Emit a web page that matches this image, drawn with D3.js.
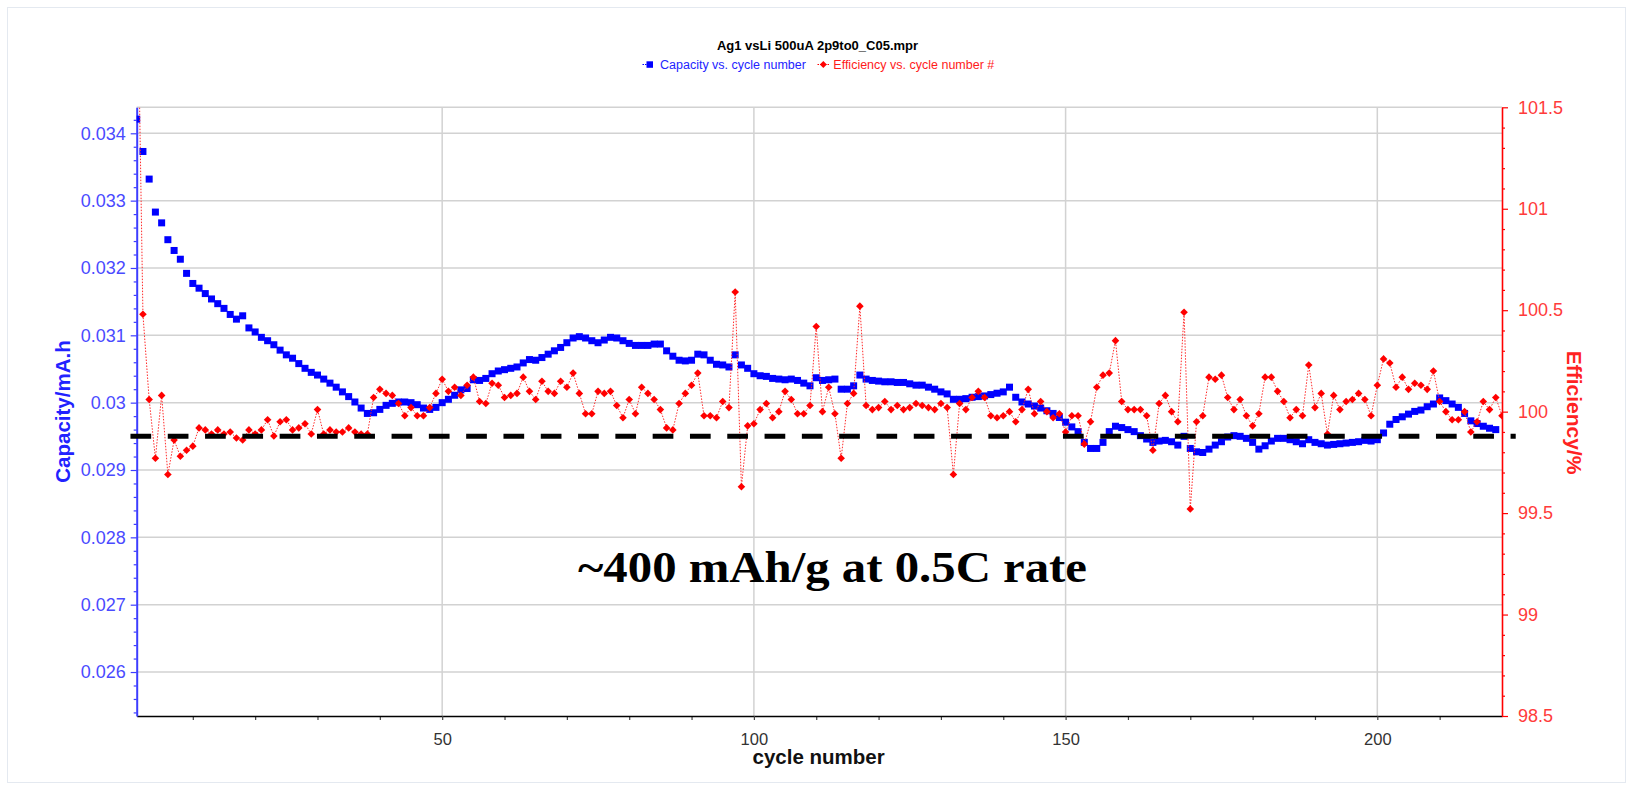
<!DOCTYPE html>
<html>
<head>
<meta charset="utf-8">
<script src="https://cdn.jsdelivr.net/npm/d3@7"></script>
<style>
  html, body { margin: 0; padding: 0; background: #ffffff; }
  svg { display: block; }
</style>
</head>
<body>
<svg id="chart" width="1633" height="790"></svg>
<script>
// ---------------- DATA ----------------
const chartTitle = "Ag1 vsLi 500uA 2p9to0_C05.mpr";
const seriesNames = ["Capacity vs. cycle number", "Efficiency vs. cycle number #"];
const xTitle = "cycle number";
const yLeftTitle = "Capacity/mA.h";
const yRightTitle = "Efficiency/%";
const annotationText = "~400 mAh/g at 0.5C rate";

// cycle numbers (x categories)
const cycles = d3.range(1, 221);

// capacity (mA.h), cycles 1..219
const capacity = [
  0.03421, 0.03373, 0.03332, 0.03283, 0.03267, 0.03242, 0.03226, 0.03213, 0.03192, 0.03177,
  0.03170, 0.03162, 0.03154, 0.03147, 0.03140, 0.03131, 0.03124, 0.03129, 0.03111, 0.03105,
  0.03097, 0.03092, 0.03086, 0.03078, 0.03071, 0.03066, 0.03058, 0.03051, 0.03045, 0.03041,
  0.03035, 0.03029, 0.03023, 0.03016, 0.03009, 0.03001, 0.02992, 0.02984, 0.02985, 0.02990,
  0.02996, 0.02999, 0.03001, 0.03001, 0.03000, 0.02997, 0.02992, 0.02990, 0.02993, 0.03000,
  0.03005, 0.03011, 0.03019, 0.03021, 0.03034, 0.03033, 0.03036, 0.03043, 0.03047, 0.03049,
  0.03051, 0.03053, 0.03059, 0.03064, 0.03063, 0.03067, 0.03072, 0.03077, 0.03082, 0.03089,
  0.03096, 0.03098, 0.03096, 0.03092, 0.03089, 0.03093, 0.03097, 0.03096, 0.03092, 0.03088,
  0.03085, 0.03085, 0.03085, 0.03087, 0.03087, 0.03077, 0.03069, 0.03063, 0.03062, 0.03063,
  0.03072, 0.03071, 0.03063, 0.03057, 0.03056, 0.03053, 0.03071, 0.03056, 0.03051, 0.03043,
  0.03040, 0.03039, 0.03036, 0.03035, 0.03034, 0.03035, 0.03033, 0.03029, 0.03025, 0.03037,
  0.03033, 0.03034, 0.03035, 0.03020, 0.03020, 0.03025, 0.03041, 0.03035, 0.03033, 0.03032,
  0.03031, 0.03031, 0.03030, 0.03030, 0.03028, 0.03026, 0.03026, 0.03023, 0.03020, 0.03016,
  0.03013, 0.03005, 0.03005, 0.03006, 0.03008, 0.03009, 0.03010, 0.03012, 0.03014, 0.03016,
  0.03023, 0.03008, 0.03001, 0.02998, 0.02995, 0.02992, 0.02988, 0.02984, 0.02978, 0.02971,
  0.02964, 0.02957, 0.02941, 0.02932, 0.02932, 0.02941, 0.02957, 0.02965, 0.02963, 0.02960,
  0.02957, 0.02951, 0.02946, 0.02941, 0.02943, 0.02944, 0.02942, 0.02937, 0.02950, 0.02932,
  0.02927, 0.02926, 0.02931, 0.02937, 0.02942, 0.02949, 0.02951, 0.02950, 0.02947, 0.02941,
  0.02931, 0.02936, 0.02943, 0.02947, 0.02947, 0.02945, 0.02942, 0.02939, 0.02945, 0.02941,
  0.02939, 0.02937, 0.02938, 0.02939, 0.02940, 0.02941, 0.02942, 0.02944, 0.02943, 0.02945,
  0.02955, 0.02968, 0.02975, 0.02979, 0.02983, 0.02987, 0.02989, 0.02994, 0.02998, 0.03007,
  0.03003, 0.02998, 0.02993, 0.02984, 0.02973, 0.02969, 0.02965, 0.02962, 0.02960
];

// coulombic efficiency (%), cycles 1..220
const efficiency = [
  102.4, 100.48, 100.06, 99.77, 100.08, 99.69, 99.86, 99.78, 99.81, 99.83,
  99.92, 99.91, 99.89, 99.91, 99.89, 99.90, 99.87, 99.86, 99.91, 99.89,
  99.91, 99.96, 99.88, 99.95, 99.96, 99.91, 99.92, 99.94, 99.89, 100.01,
  99.89, 99.91, 99.90, 99.90, 99.92, 99.90, 99.89, 99.89, 100.07, 100.11,
  100.09, 100.08, 100.04, 99.98, 100.02, 99.98, 99.98, 100.02, 100.09, 100.16,
  100.10, 100.12, 100.08, 100.13, 100.17, 100.05, 100.04, 100.14, 100.13, 100.07,
  100.08, 100.09, 100.17, 100.10, 100.06, 100.15, 100.10, 100.09, 100.15, 100.12,
  100.19, 100.09, 99.99, 99.99, 100.10, 100.09, 100.10, 100.03, 99.97, 100.06,
  99.99, 100.12, 100.09, 100.06, 100.01, 99.92, 99.91, 100.04, 100.09, 100.13,
  100.19, 99.98, 99.98, 99.97, 100.05, 100.02, 100.59, 99.63, 99.93, 99.94,
  100.01, 100.04, 99.97, 100.00, 100.10, 100.06, 99.99, 99.99, 100.03, 100.42,
  100.00, 100.12, 99.99, 99.77, 100.04, 100.09, 100.52, 100.03, 100.01, 100.02,
  100.05, 100.01, 100.03, 100.01, 100.02, 100.04, 100.03, 100.02, 100.01, 100.04,
  100.02, 99.69, 100.04, 100.01, 100.07, 100.10, 100.07, 99.98, 99.97, 99.98,
  100.00, 99.95, 100.01, 100.11, 99.99, 100.05, 100.00, 99.97, 99.99, 99.90,
  99.98, 99.98, 99.84, 99.95, 100.12, 100.18, 100.19, 100.35, 100.05, 100.01,
  100.01, 100.01, 99.98, 99.81, 100.04, 100.08, 100.00, 99.95, 100.49, 99.52,
  99.95, 99.98, 100.17, 100.16, 100.18, 100.07, 100.01, 100.06, 99.98, 99.93,
  99.99, 100.17, 100.17, 100.10, 100.05, 99.97, 100.01, 99.98, 100.23, 100.02,
  100.09, 99.89, 100.08, 100.01, 100.05, 100.06, 100.09, 100.06, 99.98, 100.13,
  100.26, 100.24, 100.12, 100.17, 100.11, 100.14, 100.13, 100.11, 100.20, 100.05,
  100.00, 99.96, 99.96, 100.00, 99.90, 99.95, 100.05, 100.01, 100.07, 99.98
];

// axis ticks
const capTicks = [0.026, 0.027, 0.028, 0.029, 0.030, 0.031, 0.032, 0.033, 0.034];
const effTicks = [98.5, 99, 99.5, 100, 100.5, 101, 101.5];
const cycleTicks = [50, 100, 150, 200];

// dashed guide line (capacity level) and its cycle extent
const guideLevel = 0.0295;
const guideFrom = 0;
const guideTo = 222.2;

// ---------------- LAYOUT ----------------
const plot = { left: 136.7, right: 1502, top: 107.3, bottom: 716 };
const xDomain = [1, 220];
const capDomain = [0.025347, 0.034386];
const effDomain = [98.5, 101.5];

const x = d3.scaleLinear().domain(xDomain).range([plot.left, plot.right]);
const yL = d3.scaleLinear().domain(capDomain).range([plot.bottom, plot.top]);
const yR = d3.scaleLinear().domain(effDomain).range([plot.bottom, plot.top]);

const svg = d3.select("#chart");
const sans = "'Liberation Sans', Arial, sans-serif";

// faint outer frame
svg.append("rect")
  .attr("x", 7.5).attr("y", 7.5).attr("width", 1618).attr("height", 775)
  .attr("fill", "none").attr("stroke", "#e4e9f0").attr("stroke-width", 1);

// clip
svg.append("defs").append("clipPath").attr("id", "plotClip")
  .append("rect")
  .attr("x", plot.left).attr("y", plot.top)
  .attr("width", plot.right - plot.left).attr("height", plot.bottom - plot.top);

// ---------------- GRID ----------------
const grid = svg.append("g").attr("class", "grid");
grid.selectAll("line.h").data(capTicks).join("line").attr("class", "h")
  .attr("x1", plot.left).attr("x2", plot.right)
  .attr("y1", d => yL(d)).attr("y2", d => yL(d))
  .attr("stroke", "#d2d2d2").attr("stroke-width", 1.5);
grid.selectAll("line.v").data(cycleTicks).join("line").attr("class", "v")
  .attr("x1", d => x(d)).attr("x2", d => x(d))
  .attr("y1", plot.top).attr("y2", plot.bottom)
  .attr("stroke", "#d2d2d2").attr("stroke-width", 1.5);
grid.append("line")
  .attr("x1", plot.left).attr("x2", plot.right)
  .attr("y1", plot.top).attr("y2", plot.top)
  .attr("stroke", "#d2d2d2").attr("stroke-width", 1.5);

// ---------------- AXES ----------------
function styleAxis(g, color, width, fontSize, textColor) {
  g.select(".domain").attr("stroke", color).attr("stroke-width", width);
  g.selectAll(".tick line").attr("stroke", color).attr("stroke-width", 1.2);
  g.selectAll(".tick text").attr("fill", textColor)
    .attr("font-family", sans).attr("font-size", fontSize);
}

// bottom
const xMinor = d3.range(10, 220, 10).filter(v => v % 50 !== 0);
const gxMinor = svg.append("g").attr("transform", `translate(0,${plot.bottom})`)
  .call(d3.axisBottom(x).tickValues(xMinor).tickSize(4).tickSizeOuter(0).tickFormat(""));
gxMinor.select(".domain").remove();
gxMinor.selectAll(".tick line").attr("stroke", "#444").attr("stroke-width", 1.2);
const gx = svg.append("g").attr("transform", `translate(0,${plot.bottom})`)
  .call(d3.axisBottom(x).tickValues(cycleTicks).tickSize(4).tickSizeOuter(0).tickPadding(13));
styleAxis(gx, "#000000", 1.6, 16.5, "#333333");
gx.selectAll(".tick line").attr("stroke", "#444");

// left
const capMinor = d3.range(0.0254, 0.03439, 0.0002).filter(v => Math.abs(v * 1000 - Math.round(v * 1000)) > 1e-6);
const gyLMinor = svg.append("g").attr("transform", `translate(${plot.left},0)`)
  .call(d3.axisLeft(yL).tickValues(capMinor).tickSize(3).tickSizeOuter(0).tickFormat(""));
gyLMinor.select(".domain").remove();
gyLMinor.selectAll(".tick line").attr("stroke", "#3d3dff").attr("stroke-width", 1.2);
const gyL = svg.append("g").attr("transform", `translate(${plot.left},0)`)
  .call(d3.axisLeft(yL).tickValues(capTicks).tickSize(6).tickSizeOuter(0).tickPadding(5)
    .tickFormat(d => String(+d.toFixed(3))));
styleAxis(gyL, "#3d3dff", 2, 18, "#4a4aff");

// right
const effMinor = d3.range(98.6, 101.5, 0.1).filter(v => Math.abs(v * 2 - Math.round(v * 2)) > 1e-6);
const gyRMinor = svg.append("g").attr("transform", `translate(${plot.right},0)`)
  .call(d3.axisRight(yR).tickValues(effMinor).tickSize(3).tickSizeOuter(0).tickFormat(""));
gyRMinor.select(".domain").remove();
gyRMinor.selectAll(".tick line").attr("stroke", "#ff0000").attr("stroke-width", 1.2);
const gyR = svg.append("g").attr("transform", `translate(${plot.right},0)`)
  .call(d3.axisRight(yR).tickValues(effTicks).tickSize(6).tickSizeOuter(0).tickPadding(10)
    .tickFormat(d => String(d)));
styleAxis(gyR, "#ff0000", 1.6, 18, "#ff3b3b");

// ---------------- SERIES ----------------
const dataG = svg.append("g").attr("clip-path", "url(#plotClip)");

// capacity squares
const capData = capacity.map((v, i) => ({ c: cycles[i], v }));
const sq = 7;
dataG.append("g").selectAll("rect").data(capData).join("rect")
  .attr("x", d => x(d.c) - sq / 2).attr("y", d => yL(d.v) - sq / 2)
  .attr("width", sq).attr("height", sq)
  .attr("fill", "#0000ff");

// efficiency dotted line + diamonds
const effData = efficiency.map((v, i) => ({ c: cycles[i], v }));
dataG.append("path").datum(effData)
  .attr("fill", "none").attr("stroke", "#ff2a2a").attr("stroke-width", 1)
  .attr("stroke-dasharray", "1.5,1.5")
  .attr("d", d3.line().x(d => x(d.c)).y(d => yR(d.v)));
const dia = 3.8;
const diamondPath = `M0,${-dia}L${dia},0L0,${dia}L${-dia},0Z`;
dataG.append("g").selectAll("path").data(effData).join("path")
  .attr("transform", d => `translate(${x(d.c)},${yR(d.v)})`)
  .attr("d", diamondPath)
  .attr("fill", "#ff0000");

// dashed guide line
svg.append("line")
  .attr("x1", x(guideFrom)).attr("x2", x(guideTo))
  .attr("y1", yL(guideLevel)).attr("y2", yL(guideLevel))
  .attr("stroke", "#000000").attr("stroke-width", 5)
  .attr("stroke-dasharray", "20.7,16.6");

// ---------------- TEXTS ----------------
svg.append("text")
  .attr("x", 817.5).attr("y", 50)
  .attr("text-anchor", "middle")
  .attr("font-family", sans).attr("font-size", 13).attr("font-weight", "bold")
  .attr("fill", "#000").text(chartTitle);

// legend
const lg = svg.append("g");
lg.append("line").attr("x1", 642.5).attr("x2", 650).attr("y1", 64.5).attr("y2", 64.5)
  .attr("stroke", "#0000ff").attr("stroke-width", 1).attr("stroke-dasharray", "1.5,1");
lg.append("rect").attr("x", 646.5).attr("y", 61.3).attr("width", 6.5).attr("height", 6.5).attr("fill", "#0000ff");
lg.append("text").attr("x", 660).attr("y", 68.6)
  .attr("font-family", sans).attr("font-size", 12.5).attr("fill", "#2323ff").text(seriesNames[0]);
lg.append("line").attr("x1", 817.5).attr("x2", 829).attr("y1", 64.5).attr("y2", 64.5)
  .attr("stroke", "#ff0000").attr("stroke-width", 1).attr("stroke-dasharray", "1.5,1");
lg.append("path").attr("transform", "translate(823.3,64.5)")
  .attr("d", `M0,-3.5L3.5,0L0,3.5L-3.5,0Z`).attr("fill", "#ff0000");
lg.append("text").attr("x", 833.3).attr("y", 68.6)
  .attr("font-family", sans).attr("font-size", 12.5).attr("fill", "#ff1a1a").text(seriesNames[1]);

// axis titles
svg.append("text")
  .attr("transform", "translate(62.7,411.5) rotate(-90)")
  .attr("text-anchor", "middle").attr("dominant-baseline", "central")
  .attr("font-family", sans).attr("font-size", 20.5).attr("font-weight", "bold")
  .attr("fill", "#2222ff").text(yLeftTitle);
svg.append("text")
  .attr("transform", "translate(1574,412.5) rotate(90)")
  .attr("text-anchor", "middle").attr("dominant-baseline", "central")
  .attr("font-family", sans).attr("font-size", 21).attr("font-weight", "bold")
  .attr("fill", "#ff2222").text(yRightTitle);
svg.append("text")
  .attr("x", 818.6).attr("y", 764)
  .attr("text-anchor", "middle")
  .attr("font-family", sans).attr("font-size", 20.5).attr("font-weight", "bold")
  .attr("fill", "#111").text(xTitle);

// annotation
svg.append("text")
  .attr("x", 578).attr("y", 582)
  .attr("font-family", "'Liberation Serif', 'Times New Roman', serif")
  .attr("font-size", 44).attr("font-weight", "bold")
  .attr("textLength", 509).attr("lengthAdjust", "spacingAndGlyphs")
  .attr("fill", "#000").text(annotationText);
</script>
</body>
</html>
